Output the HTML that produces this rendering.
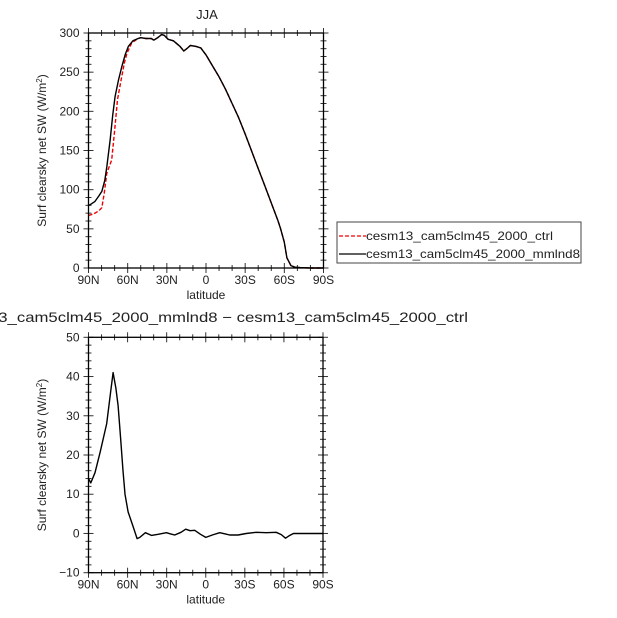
<!DOCTYPE html>
<html><head><meta charset="utf-8"><style>
html,body{margin:0;padding:0;background:#fff;}
svg{display:block;font-family:"Liberation Sans","DejaVu Sans",sans-serif;}
</style></head><body>
<svg id="s" width="617" height="618" xmlns="http://www.w3.org/2000/svg">
<rect width="617" height="618" fill="#fff"/>
<text x="207" y="19" font-size="13" text-anchor="middle" fill="#222">JJA</text>
<text x="-51" y="322" font-size="14" textLength="519" lengthAdjust="spacingAndGlyphs" fill="#222">cesm13_cam5clm45_2000_mmlnd8 − cesm13_cam5clm45_2000_ctrl</text>
<g id="g"></g>
<rect x="337" y="222" width="244" height="41" fill="none" stroke="#444" stroke-width="1"/>
<line x1="339" y1="236" x2="366" y2="236" stroke="#e00" stroke-width="1.3" stroke-dasharray="4,2"/>
<text x="366" y="240" font-size="12" textLength="187" lengthAdjust="spacingAndGlyphs" fill="#222">cesm13_cam5clm45_2000_ctrl</text>
<line x1="339" y1="254" x2="366" y2="254" stroke="#000" stroke-width="1.3"/>
<text x="366" y="258" font-size="12" textLength="214" lengthAdjust="spacingAndGlyphs" fill="#222">cesm13_cam5clm45_2000_mmlnd8</text>
</svg>
<script>
var NS="http://www.w3.org/2000/svg",g=document.getElementById("g");
function el(t,a,txt){var e=document.createElementNS(NS,t);for(var k in a)e.setAttribute(k,a[k]);if(txt!=null)e.textContent=txt;g.appendChild(e);return e;}
function panel(L,R,T,B,ymin,ymax,ymaj,ymin2,series){
  var fx=function(lat){return L+(90-lat)*(R-L)/180;},fy=function(v){return B-(v-ymin)*(B-T)/(ymax-ymin);};
  for(var lat=90;lat>=-90;lat-=10){var x=fx(lat),maj=(lat%30==0),s=maj?5:3;
    el("line",{x1:x,y1:B-s,x2:x,y2:B+s,stroke:"#333","stroke-width":1});
    el("line",{x1:x,y1:T-s,x2:x,y2:T+s,stroke:"#333","stroke-width":1});
    if(maj){var lb=lat==0?"0":(lat>0?lat+"N":(-lat)+"S");el("text",{x:x,y:B+16,"font-size":12,"text-anchor":"middle",fill:"#222"},lb);}
  }
  for(var v=ymin;v<=ymax+1e-6;v+=ymin2){var y=fy(v),maj=Math.abs((v-ymin)%ymaj)<1e-6,s=maj?5:3;
    el("line",{x1:L-s,y1:y,x2:L+s,y2:y,stroke:"#333","stroke-width":1});
    el("line",{x1:R-s,y1:y,x2:R+s,y2:y,stroke:"#333","stroke-width":1});
    if(maj)el("text",{x:L-9,y:y+4,"font-size":12,"text-anchor":"end",fill:"#222"},v<0?"−"+(-v):""+v);
  }
  series.forEach(function(sr){var d="";sr.p.forEach(function(q,i){d+=(i?"L":"M")+fx(q[0]).toFixed(1)+","+fy(q[1]).toFixed(1);});
    var a={d:d,fill:"none",stroke:sr.c,"stroke-width":1.4,"stroke-linejoin":"round"};if(sr.dash)a["stroke-dasharray"]="4,2";el("path",a);});
  el("rect",{x:L,y:T,width:R-L,height:B-T,fill:"none",stroke:"#000","stroke-width":1.3});
  el("text",{x:(L+R)/2,y:B+31,"font-size":12,"text-anchor":"middle",fill:"#222"},"latitude");
  var cy=(T+B)/2;var t=el("text",{x:0,y:0,"font-size":12,"text-anchor":"middle",fill:"#222",transform:"translate(46,"+cy+") rotate(-90)"});
  t.innerHTML='Surf clearsky net SW (W/m<tspan dy="-4" font-size="8">2</tspan><tspan dy="4">)</tspan>';
}
var head=[[90,80],[88.6,81],[85,85],[82,92],[79.7,98],[77.5,112],[75.9,130],[73.4,164],[71.5,195],[69.6,219],[67,240],[64.5,257],[62,272],[59.4,283],[56,290],[52,293]];
var tail=[[50,294],[46,293],[42,293],[40,291],[37,294],[34,298],[32,297],[29,292],[25,290],[20,283],[17,277],[14,281],[12,284],[8,283],[4,281],[0,272],[-5,258],[-10,244],[-15,228],[-20,210],[-25,192],[-30,171],[-35,149],[-40,127],[-45,105],[-50,83],[-55,61],[-57,51],[-60,33],[-62,13],[-65,3],[-68,1],[-72,0.5],[-80,0],[-90,0]];
var blk=head.concat(tail);
var red=[[90,67],[86,69],[82,73],[79.8,77],[78,95],[76,121],[74,130],[72.2,138],[70,175],[67.8,215],[65,240],[62.5,262],[60.6,274],[57,287],[53,292]].concat(tail);
panel(88.5,323.5,33,268,0,300,50,10,[{p:red,c:"#e00",dash:1},{p:blk,c:"#000"}]);
var dif=[[90,14],[88.2,12.9],[85,15.5],[81,20.8],[76,28],[73,36],[71.1,41],[69,37],[67.3,32.6],[65.5,25],[63.5,16],[62,10],[59.6,5.5],[56,2],[52.7,-1.3],[50.6,-1],[46.3,0.2],[41.7,-0.5],[36.6,-0.2],[30.2,0.2],[27,-0.1],[23.8,-0.4],[19,0.3],[15.4,1.1],[12,0.7],[8.5,0.8],[4,-0.2],[0,-1],[-5,-0.4],[-10.7,0.2],[-15,-0.1],[-18.4,-0.4],[-24.8,-0.4],[-31,0],[-38.8,0.3],[-46.4,0.2],[-54.1,0.3],[-58,-0.3],[-61.2,-1.2],[-64,-0.6],[-67.3,0],[-90,0]];
panel(88.5,323,337.3,572.7,-10,50,10,2,[{p:dif,c:"#000"}]);
</script>
</body></html>
